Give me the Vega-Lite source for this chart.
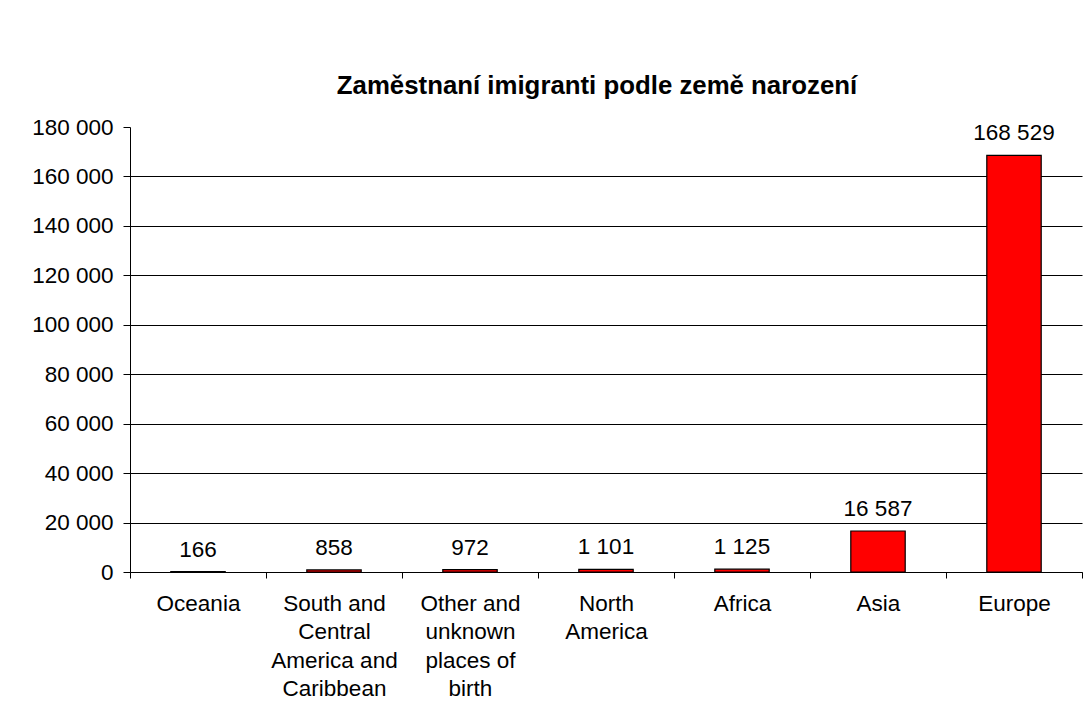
{
  "$schema": "https://vega.github.io/schema/vega-lite/v6.json",
  "width": 952,
  "height": 445,
  "autosize": {"type": "none"},
  "padding": {"left": 130, "top": 127, "right": 2, "bottom": 147},
  "background": "white",
  "title": {
    "text": "Zaměstnaní imigranti podle země narození",
    "font": "Liberation Sans",
    "fontSize": 25.8,
    "fontWeight": "bold",
    "color": "black",
    "anchor": "middle",
    "frame": "group",
    "baseline": "alphabetic",
    "offset": -4,
    "dx": -9
  },
  "data": {
    "values": [
      {"region": "Oceania", "employed": 166},
      {"region": "South and Central America and Caribbean", "employed": 858},
      {"region": "Other and unknown places of birth", "employed": 972},
      {"region": "North America", "employed": 1101},
      {"region": "Africa", "employed": 1125},
      {"region": "Asia", "employed": 16587},
      {"region": "Europe", "employed": 168529}
    ]
  },
  "encoding": {
    "x": {
      "field": "region",
      "type": "nominal",
      "sort": null,
      "scale": {"paddingInner": 0, "paddingOuter": 0},
      "axis": {
        "title": null,
        "labelAngle": 0,
        "tickBand": "extent",
        "tickSize": 6,
        "tickColor": "black",
        "domainColor": "black",
        "labelFont": "Liberation Sans",
        "labelFontSize": 22.5,
        "labelColor": "black",
        "labelPadding": 14,
        "labelBaseline": "top",
        "labelLineHeight": 28.5,
        "labelLimit": 300,
        "labelExpr": "datum.value == 'South and Central America and Caribbean' ? ['South and', 'Central', 'America and', 'Caribbean'] : datum.value == 'Other and unknown places of birth' ? ['Other and', 'unknown', 'places of', 'birth'] : datum.value == 'North America' ? ['North', 'America'] : datum.value"
      }
    },
    "y": {
      "field": "employed",
      "type": "quantitative",
      "scale": {"domain": [0, 180000], "nice": false},
      "axis": {
        "title": null,
        "values": [0, 20000, 40000, 60000, 80000, 100000, 120000, 140000, 160000, 180000],
        "format": ",d",
        "tickSize": 7,
        "tickColor": "black",
        "domainColor": "black",
        "grid": true,
        "gridColor": "black",
        "gridOpacity": {"condition": {"test": "datum.value == 180000", "value": 0}, "value": 1},
        "labelFont": "Liberation Sans",
        "labelFontSize": 22.5,
        "labelColor": "black",
        "labelPadding": 10
      }
    }
  },
  "layer": [
    {
      "mark": {"type": "bar", "width": {"band": 0.4}, "color": "#FF0000", "stroke": "black", "strokeWidth": 1.2}
    },
    {
      "mark": {"type": "text", "font": "Liberation Sans", "fontSize": 22.5, "color": "black", "baseline": "alphabetic", "dy": -15},
      "encoding": {"text": {"field": "employed", "type": "quantitative", "format": ",d"}}
    }
  ],
  "config": {
    "locale": {"number": {"decimal": ",", "thousands": " ", "grouping": [3], "currency": ["", ""]}},
    "view": {"stroke": null},
    "axis": {"domainWidth": 1, "tickWidth": 1, "gridWidth": 1}
  }
}
